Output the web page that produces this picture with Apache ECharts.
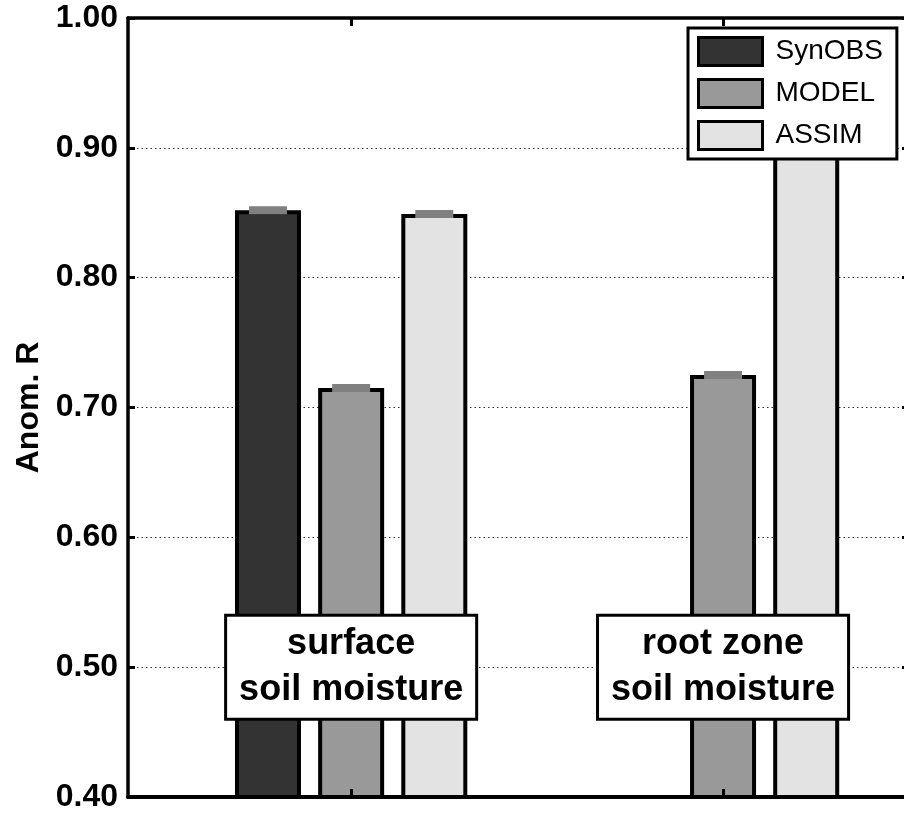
<!DOCTYPE html>
<html>
<head>
<meta charset="utf-8">
<script src="https://cdn.jsdelivr.net/npm/echarts@6/dist/echarts.min.js"></script>
<style>
html,body{margin:0;padding:0;background:#fff;}
#chart{width:904px;height:813px;}
</style>
</head>
<body>
<div id="chart"></div>
<script>
// ---- data ----
const categories = [1, 2];
const seriesNames = ['SynOBS', 'MODEL', 'ASSIM'];
const synobsValues = [0.852, null];
const modelValues = [0.715, 0.725];
const assimValues = [0.849, 0.935];
const yTicks = [0.40, 0.50, 0.60, 0.70, 0.80, 0.90, 1.00];
const boxLabels = ['surface\nsoil moisture', 'root zone\nsoil moisture'];
const boxLabelX = [1.0, 2.0];
const boxLabelY = [0.50, 0.50];

const colors = ['#333333', '#999999', '#e3e3e3'];
const allValues = [synobsValues, modelValues, assimValues];
const FONT = '"Liberation Sans", Arial, Helvetica, sans-serif';

const chart = echarts.init(document.getElementById('chart'), null, {renderer: 'canvas'});

const barSeries = seriesNames.map((name, si) => {
  const vals = allValues[si];
  const data = [];
  const marks = [];
  categories.forEach((c, i) => {
    if (vals[i] != null) {
      data.push([c, vals[i]]);
      marks.push({coord: [c, vals[i]]});
    }
  });
  return {
    name: name,
    type: 'bar',
    data: data,
    barWidth: 66,
    barGap: '26%',
    itemStyle: {color: colors[si], borderColor: '#000', borderWidth: 4},
    emphasis: {disabled: true},
    markPoint: {
      symbol: 'rect',
      symbolSize: [38, 8],
      itemStyle: {color: '#808080'},
      label: {show: false},
      data: marks,
      silent: true
    }
  };
});

const labelSeries = {
  type: 'scatter',
  z: 6,
  symbolSize: 0,
  itemStyle: {opacity: 1},
  data: boxLabels.map((t, i) => ({value: [boxLabelX[i], boxLabelY[i]], name: t})),
  label: {
    show: true,
    position: 'inside',
    formatter: p => p.name,
    fontFamily: FONT,
    fontSize: 36,
    fontWeight: 'bold',
    color: '#000',
    opacity: 1,
    align: 'center',
    verticalAlign: 'middle',
    lineHeight: 46,
    backgroundColor: '#fff',
    borderColor: '#000',
    borderWidth: 3,
    padding: [6, 12, 3, 12]
  },
  emphasis: {disabled: true},
  silent: true
};

const option = {
  animation: false,
  backgroundColor: '#fff',
  grid: {left: 128, top: 18, width: 781, height: 779, containLabel: false, outerBoundsMode: 'none'},
  legend: {
    data: seriesNames,
    orient: 'vertical',
    left: 688,
    top: 28,
    z: 20,
    icon: 'rect',
    itemWidth: 64,
    itemHeight: 28,
    itemGap: 11,
    padding: [8, 14, 8, 9],
    backgroundColor: '#fff',
    borderColor: '#000',
    borderWidth: 3,
    selectedMode: false,
    itemStyle: {borderColor: '#000', borderWidth: 3},
    textStyle: {fontFamily: FONT, fontSize: 28, color: '#000', padding: [0, 0, 0, 8]}
  },
  xAxis: [
    {
      type: 'value', position: 'bottom', min: 0.4, max: 2.5, z: 10,
      axisLine: {show: true, lineStyle: {color: '#000', width: 4}},
      axisTick: {show: true, inside: true, length: 8, lineStyle: {color: '#000', width: 3}, customValues: categories},
      axisLabel: {show: false},
      splitLine: {show: false}
    },
    {
      type: 'value', position: 'top', min: 0.4, max: 2.5, z: 10,
      axisLine: {show: true, lineStyle: {color: '#000', width: 3.5}},
      axisTick: {show: true, inside: true, length: 8, lineStyle: {color: '#000', width: 3}, customValues: categories},
      axisLabel: {show: false},
      splitLine: {show: false}
    }
  ],
  yAxis: [
    {
      type: 'value', position: 'left', min: 0.4, max: 1.0, interval: 0.1,
      name: 'Anom. R', nameLocation: 'middle', nameGap: 78,
      nameTextStyle: {fontFamily: FONT, fontSize: 32, fontWeight: 'bold', color: '#000'},
      axisLine: {show: true, lineStyle: {color: '#000', width: 3.5}},
      axisTick: {show: true, inside: true, length: 7, lineStyle: {color: '#000', width: 3}},
      axisLabel: {
        show: true, margin: 10, fontFamily: FONT, fontSize: 32, fontWeight: 'bold', color: '#000',
        customValues: yTicks,
        formatter: v => v.toFixed(2)
      },
      splitLine: {show: true, lineStyle: {color: '#333', width: 1, type: [1.5, 3]}}
    },
    {
      type: 'value', position: 'right', min: 0.4, max: 1.0, interval: 0.1, z: 10,
      axisLine: {show: true, lineStyle: {color: '#000', width: 3.5}},
      axisTick: {show: true, inside: true, length: 7, lineStyle: {color: '#000', width: 3}},
      axisLabel: {show: false},
      splitLine: {show: false}
    }
  ],
  series: barSeries.concat([labelSeries])
};

chart.setOption(option);
</script>
</body>
</html>
